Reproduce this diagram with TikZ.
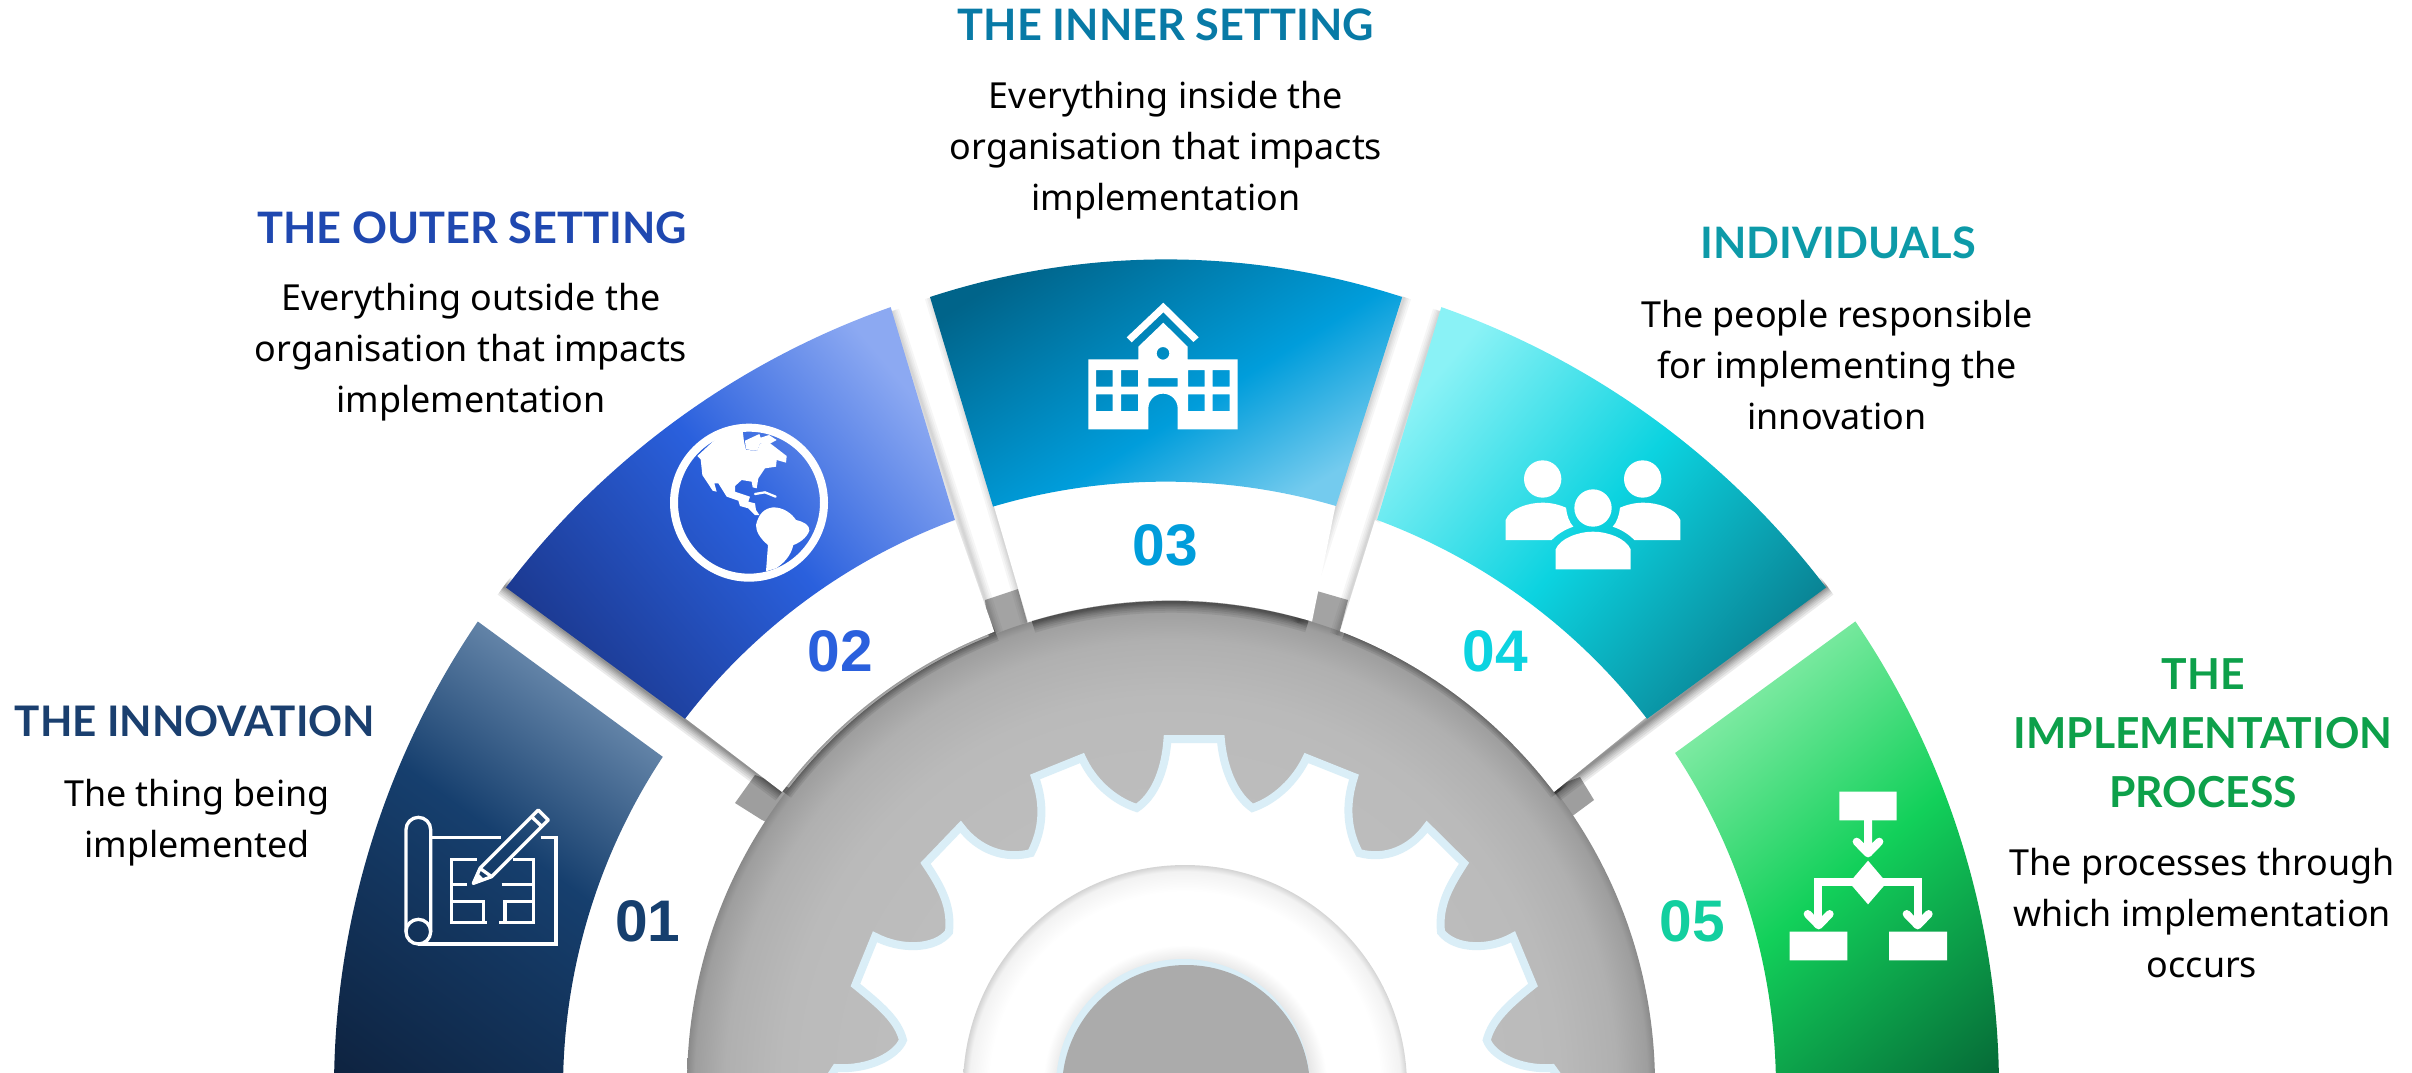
\documentclass[tikz,border=0pt]{standalone}
\usepackage{fontspec}
\setmainfont{Noto Sans}
\newfontfamily\headfont{Lato}[BoldFont={Lato Bold}]
\newfontfamily\numfont{Liberation Sans}[BoldFont={Liberation Sans Bold}]
\definecolor{aL}{HTML}{6A8AAD}\definecolor{aM}{HTML}{163F6E}\definecolor{aD}{HTML}{0E2340}
\definecolor{bL}{HTML}{8CA9F2}\definecolor{bM}{HTML}{2A60DD}\definecolor{bD}{HTML}{1C3A92}
\definecolor{cL}{HTML}{74CBEE}\definecolor{cM}{HTML}{009DDB}\definecolor{cD}{HTML}{00648A}
\definecolor{dL}{HTML}{8AF2F6}\definecolor{dM}{HTML}{0CD3E0}\definecolor{dD}{HTML}{0A8596}
\definecolor{eL}{HTML}{80EBA4}\definecolor{eM}{HTML}{12D05A}\definecolor{eD}{HTML}{066C38}
\definecolor{gearedge}{HTML}{DAEEF7}
\pgfdeclarehorizontalshading{shA}{100bp}{color(0bp)=(aD);color(25bp)=(aD);color(56bp)=(aM);color(75bp)=(aL);color(100bp)=(aL)}
\pgfdeclarehorizontalshading{shB}{100bp}{color(0bp)=(bD);color(25bp)=(bD);color(52bp)=(bM);color(75bp)=(bL);color(100bp)=(bL)}
\pgfdeclarehorizontalshading{shC}{100bp}{color(0bp)=(cD);color(25bp)=(cD);color(56bp)=(cM);color(75bp)=(cL);color(100bp)=(cL)}
\pgfdeclarehorizontalshading{shD}{100bp}{color(0bp)=(dL);color(25bp)=(dL);color(50bp)=(dM);color(75bp)=(dD);color(100bp)=(dD)}
\pgfdeclarehorizontalshading{shE}{100bp}{color(0bp)=(eL);color(25bp)=(eL);color(48bp)=(eM);color(75bp)=(eD);color(100bp)=(eD)}
\pgfdeclareradialshading{shDisc}{\pgfpoint{0bp}{0bp}}{color(0bp)=(black!28);color(15bp)=(black!26);color(20bp)=(black!27);color(23bp)=(black!31);color(24.6bp)=(black!38);color(25bp)=(black!46);color(50bp)=(black!46)}
\pgfdeclareradialshading{shRing}{\pgfpoint{0bp}{0bp}}{color(0bp)=(black!10);color(14bp)=(black!10);color(16bp)=(white);color(22bp)=(white);color(24.3bp)=(black!5);color(25bp)=(black!17);color(50bp)=(black!17)}
\def\seg#1#2#3#4#5#6{(#1:#2) arc[start angle=#1,end angle=#3,radius=#2] -- (#4:#5) arc[start angle=#4,end angle=#6,radius=#5] -- cycle}
\newcommand{\softline}[2]{\foreach \w in {16,13,10,7.5,5.5,3.5,2}{\draw[black,opacity=#1,line width=\w pt,line join=round] #2;}}
\newcommand{\sideline}[1]{\foreach \w in {11,8,5.5,3.5,1.8}{\draw[black,opacity=.035,line width=\w pt,line join=round] #1;}}
\tikzset{
  ttl/.style={font=\headfont\bfseries\fontsize{32.5}{44.2}\selectfont,align=center,inner sep=0pt},
  body/.style={font=\fontsize{26.9}{38.4}\selectfont,align=center,inner sep=0pt,text=black},
  num/.style={font=\numfont\bfseries\fontsize{44}{44}\selectfont,inner sep=0pt},
  ico/.style={white,line width=2.5pt},
  stem/.style={white,line width=6pt,line cap=round,line join=round},
}
\begin{document}
\begin{tikzpicture}[x=.75pt,y=.75pt,yscale=-1]
\useasboundingbox (0,0) rectangle (2412,1072);
\clip (0,0) rectangle (2412,1072);
% tabs and gray disc
\fill[black!38] (735,803) -- (755,775) -- (795,790) -- (795,835) -- (762,820) -- cycle;
\fill[black!38] (1594,800) -- (1580,777) -- (1545,790) -- (1545,835) -- (1571,817) -- cycle;
\fill[black!36] (985,600) -- (1018,589) -- (1035,650) -- (990,650) -- cycle;
\fill[black!36] (1310,589) -- (1348,600) -- (1335,650) -- (1295,650) -- cycle;
\shade[shading=shDisc] (1171,1085) circle[radius=484];
% gear
\draw[fill=white,draw=gearedge,line width=6pt,line join=miter]
 (1167.5,739) .. controls (1165,775) and (1152,798) .. (1136.7,808)
 .. controls (1112,800) and (1092,780) .. (1082,758) -- (1035,777)
 .. controls (1045,805) and (1043,830) .. (1031,853)
 .. controls (1005,860) and (978,850) .. (960.6,826.7) -- (925.5,863.3)
 .. controls (940,885) and (952,905) .. (949,932)
 .. controls (935,950) and (900,950) .. (875,936.7) -- (855.4,985)
 .. controls (880,1005) and (898,1020) .. (903,1040)
 .. controls (897,1055) and (870,1070) .. (836,1068) -- (815,1100) -- (1575,1100) -- (1552,1068)
 .. controls (1518,1070) and (1492,1055) .. (1486.7,1040)
 .. controls (1492,1020) and (1508,1005) .. (1533,985) -- (1513,936.7)
 .. controls (1490,950) and (1455,950) .. (1441,932)
 .. controls (1438,905) and (1450,885) .. (1464,863.3) -- (1427,826.7)
 .. controls (1410,850) and (1385,860) .. (1359,853)
 .. controls (1347,830) and (1345,805) .. (1354,777) -- (1306.4,758)
 .. controls (1296,780) and (1276,800) .. (1252.4,808)
 .. controls (1238,798) and (1224,775) .. (1220.8,739) -- cycle;
% hub
\shade[shading=shRing] (1185,1087) circle[radius=222];
\fill[gearedge] (1183,1086) circle[radius=127];
\fill[black!33] (1186,1089) circle[radius=124];
% shadows and white wedges
\sideline{(892,311) -- (996,633)}
\sideline{(1440,311) -- (1337,635)}
\sideline{(932,297) -- (1028,622)}
\sideline{(1404,297) -- (1298,623)}
\begin{scope}[shift={(1171,1085)}]
 \softline{.07}{(-106.7:483) arc[start angle=-106.7,end angle=-73.5,radius=483]}
 \softline{.07}{(-142.9:487) arc[start angle=-142.9,end angle=-111.2,radius=487]}
 \softline{.07}{(-37.1:487) arc[start angle=-37.1,end angle=-69,radius=487]}
\end{scope}
\softline{.08}{(504,586) -- (782,792)}
\softline{.08}{(1827,586) -- (1554,792)}
\begin{scope}[shift={(1171,1085)}]
 \fill[white] (782,792) ++(-1171,-1085) arc[start angle=-142.9,end angle=-111.2,radius=487] -- (-216,-565) -- (-490,-370) -- cycle;
 \fill[white] (1554,792) ++(-1171,-1085) arc[start angle=-37.1,end angle=-69,radius=487] -- (204,-565) -- (478,-370) -- cycle;
 \fill[white] (1028,622) ++(-1171,-1085) arc[start angle=-107.2,end angle=-73,radius=483] -- (165,-582) -- (-178,-582) -- cycle;
\end{scope}
% coloured segments
\begin{scope}[shift={(1166,1089)}]
\shade[shading=shA,shading angle=54] \seg{-145.81}{832}{-186}{-186}{603}{-146.57};
\shade[shading=shB,shading angle=40] \seg{-142.77}{829}{-109.4}{-110.35}{607}{-142.42};
\shade[shading=shD,shading angle=-40] \seg{-37.23}{829}{-70.6}{-69.65}{607}{-37.58};
\shade[shading=shE,shading angle=-50] \seg{-34.15}{833}{6}{6}{610}{-33.43};
\end{scope}
\shade[shading=shC,shading angle=-58] (930,297) arc[start angle=-108.1,end angle=-71.9,radius=760] -- (1336,506) arc[start angle=-73.74,end angle=-106.45,radius=609] -- cycle;
% blueprint icon
\begin{scope}[shift={(320,600)},scale=1/3]
 \draw[ico] (258,995) -- (258,689) arc[start angle=180,end angle=360,radius=37] -- (332,995);
 \draw[ico] (295,995) circle[radius=37];
 \draw[ico] (332,712) -- (542,712) (662,712) -- (708,712) -- (708,1032) -- (295,1032);
 \draw[ico] (470,778) -- (395,778) -- (395,968) -- (500,968) (395,853) -- (440,853) (395,905) -- (490,905) -- (490,968);
 \draw[ico] (580,778) -- (640,778) -- (640,968) -- (538,968) (545,853) -- (640,853) (640,905) -- (555,905) -- (555,968);
 \draw[ico,line join=round] (460,850) -- (480,805) -- (655,630) -- (685,660) -- (515,830) -- cycle (480,805) -- (515,830) (635,650) -- (668,682);
 \fill[white] (460,850) -- (477,822) -- (492,838) -- cycle;
\end{scope}
% globe icon
\begin{scope}[shift={(620,400)},scale=1/3]
 \draw[white,line width=6pt] (387,308) circle[radius=225];
 \fill[white] (232,168) -- (300,105) -- (368,92) -- (372,125) -- (378,150) -- (412,152) -- (420,130) -- (448,128) -- (500,168) -- (498,188) -- (470,180) -- (468,200) -- (435,205) -- (415,235) -- (410,265) -- (398,262) -- (395,245) -- (365,240) -- (345,258) -- (345,275) -- (375,285) -- (390,290) -- (385,305) -- (405,310) -- (408,330) -- (418,345) -- (405,345) -- (385,325) -- (360,318) -- (355,302) -- (320,290) -- (295,250) -- (283,250) -- (290,275) -- (278,272) -- (247,225) -- (242,178) -- cycle;
 \fill[white] (375,122) -- (418,102) -- (422,113) -- (447,105) -- (470,120) -- (448,132) -- (420,130) -- (412,152) -- (378,148) -- cycle;
 \fill[white] (408,375) .. controls (415,345) and (430,325) .. (460,322) .. controls (490,322) and (515,340) .. (528,360) .. controls (550,365) and (570,375) .. (568,392) .. controls (560,415) and (535,430) .. (520,435) .. controls (512,470) and (490,490) .. (468,505) -- (438,514) -- (444,435) .. controls (420,415) and (408,395) .. (408,375) -- cycle;
 \draw[white,line width=1.7pt,line cap=round] (405,282) -- (435,277) -- (467,290);
\end{scope}
% building icon
\begin{scope}[shift={(1040,280)},scale=1/3]
 \fill[white] (260,172) -- (370,68) -- (476,172) -- (460,186) -- (370,97) -- (275,187) -- cycle;
 \fill[white,even odd rule]
  (145,238) -- (295,238) -- (295,200) -- (370,128) -- (443,200) -- (443,238) -- (593,238) -- (593,448) -- (413,448) -- (413,385) arc[start angle=0,end angle=-180,radius=44] -- (325,448) -- (145,448) -- cycle
  (369,220) circle[radius=19]
  (168,270) rectangle (218,320) (243,270) rectangle (294,320) (168,343) rectangle (218,393) (243,343) rectangle (294,393)
  (444,270) rectangle (494,320) (518,270) rectangle (569,320) (444,343) rectangle (494,393) (518,343) rectangle (569,393)
  (325,294) rectangle (413,320);
\end{scope}
% people icon
\begin{scope}[shift={(1460,440)},scale=1/3]
 \fill[white] (248,117) circle[radius=56] (548,117) circle[radius=56] (399,204) circle[radius=56];
 \fill[white] (137,300) -- (137,240) .. controls (150,205) and (205,188) .. (248,188) .. controls (275,188) and (300,195) .. (318,203) .. controls (320,225) and (328,248) .. (340,260) .. controls (310,270) and (290,285) .. (275,300) -- cycle;
 \fill[white] (661,300) -- (661,240) .. controls (648,205) and (593,188) .. (550,188) .. controls (523,188) and (498,195) .. (480,203) .. controls (478,225) and (470,248) .. (458,260) .. controls (488,270) and (508,285) .. (523,300) -- cycle;
 \fill[white] (287,388) -- (287,328) .. controls (300,295) and (355,275) .. (399,275) .. controls (443,275) and (498,295) .. (512,328) -- (512,388) -- cycle;
\end{scope}
% flowchart icon
\begin{scope}[shift={(1640,640)},scale=1/3]
 \fill[white] (598,455) rectangle (770,541) (449,875) rectangle (622,961) (747,875) rectangle (921,961);
 \fill[white] (684,662) -- (740,728) -- (684,793) -- (628,728) -- cycle;
 \draw[stem] (684,541) -- (684,638) (650,605) -- (684,640) -- (718,605);
 \draw[stem,line cap=butt,line join=miter] (640,727) -- (535,727) -- (535,850);
 \draw[stem,line cap=butt,line join=miter] (728,727) -- (833,727) -- (833,850);
 \draw[stem] (503,822) -- (536,856) -- (569,822) (800,822) -- (833,856) -- (866,822);
\end{scope}
% numbers
\node[num,text=aM] (n1) at (648,921) {01};
\node[num,text=bM] (n2) at (840,651) {02};
\node[num,text=cM] (n3) at (1165,545) {03};
\node[num,text=dM] (n4) at (1495,651) {04};
\node[num,text={rgb,255:red,18;green,207;blue,159}] (n5) at (1692,921) {05};
% titles
\node[ttl,font=\headfont\bfseries\fontsize{31.6}{44.2}\selectfont,text={rgb,255:red,26;green,63;blue,111}] (t1) at (195,721) {THE INNOVATION};
\node[ttl,text={rgb,255:red,31;green,72;blue,176}] (t2) at (472,228) {THE OUTER SETTING};
\node[ttl,text={rgb,255:red,8;green,122;blue,166}] (t3) at (1166,25) {THE INNER SETTING};
\node[ttl,text={rgb,255:red,13;green,154;blue,168}] (t4) at (1838,243) {INDIVIDUALS};
\node[ttl,font=\headfont\bfseries\fontsize{32}{44.2}\selectfont,text={rgb,255:red,13;green,160;blue,74}] (t5) at (2203,733) {THE\\IMPLEMENTATION\\PROCESS};
% body texts
\node[body] (b1) at (197,823) {The thing being\\implemented};
\node[body] (b2) at (471,352) {Everything outside the\\organisation that impacts\\implementation};
\node[body] (b3) at (1166,150) {Everything inside the\\organisation that impacts\\implementation};
\node[body] (b4) at (1837,365) {The people responsible\\for implementing the\\innovation};
\node[body] (b5) at (2202,913) {The processes through\\which implementation\\occurs};
\end{tikzpicture}
\end{document}
